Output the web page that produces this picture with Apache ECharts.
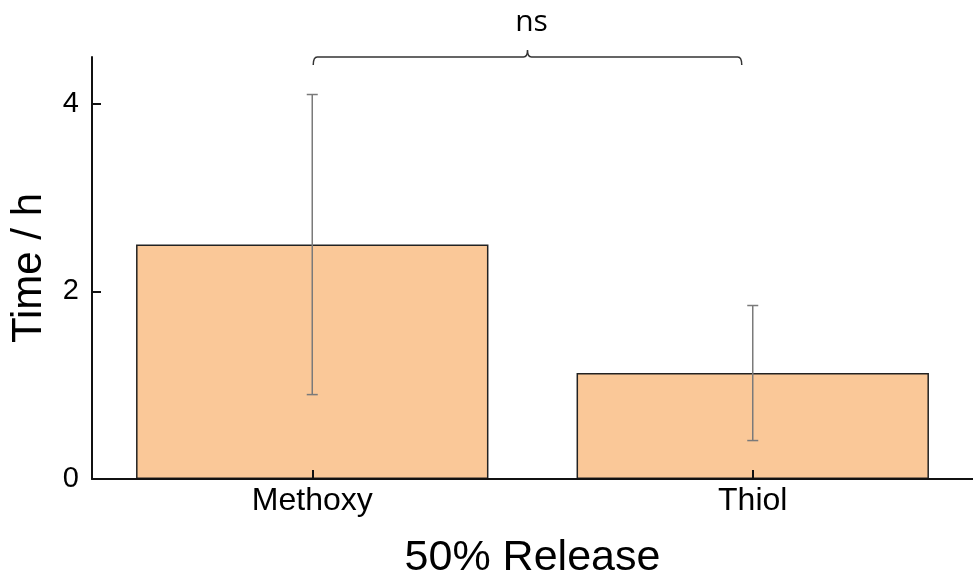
<!DOCTYPE html>
<html>
<head>
<meta charset="utf-8">
<title>50% Release time</title>
<script src="https://cdn.jsdelivr.net/npm/echarts@6/dist/echarts.min.js"></script>
<style>
  html, body { margin: 0; padding: 0; background: #ffffff; }
  #chart { width: 973px; height: 585px; }
</style>
</head>
<body>
<div id="chart"></div>
<script>
// Time to 50% release per linker (mean ± SD, hours)
const categories = ['Methoxy', 'Thiol'];
const meanTime = [2.5, 1.13];
const sdTime = [1.6, 0.72];
const yTicks = [0, 2, 4];

// Significance annotation between the two groups
const bracketPair = [0, 1];
const bracketLevel = [4.5];
const bracketLabel = 'ns';

const FONT = '"Liberation Sans", Arial, sans-serif';
const INK = '#111111';

const errorData = meanTime.map((m, i) => [i, m - sdTime[i], m + sdTime[i]]);

const chart = echarts.init(document.getElementById('chart'), null, { renderer: 'canvas' });

chart.setOption({
  animation: false,
  backgroundColor: '#ffffff',
  // the x axis runs past the right edge of the canvas
  grid: { left: 90, top: 57, width: 890, height: 425, containLabel: false },
  xAxis: {
    type: 'category',
    data: categories,
    z: 10,
    axisLine: { show: true, lineStyle: { color: INK, width: 2 } },
    axisTick: { show: true, inside: true, length: 9, alignWithLabel: true, lineStyle: { color: INK, width: 2 } },
    axisLabel: { color: '#000', fontSize: 32, fontFamily: FONT, margin: 6 },
    splitLine: { show: false },
    name: '50% Release',
    nameLocation: 'middle',
    nameGap: 58,
    nameTextStyle: { color: '#000', fontSize: 43, fontFamily: FONT }
  },
  yAxis: {
    type: 'value',
    min: 0,
    max: 4.5,
    interval: 2,
    z: 10,
    axisLine: { show: true, lineStyle: { color: INK, width: 2 } },
    axisTick: { show: true, inside: true, length: 9, customValues: yTicks, lineStyle: { color: INK, width: 2 } },
    axisLabel: { color: '#000', fontSize: 29, fontFamily: FONT, margin: 13, customValues: yTicks },
    splitLine: { show: false },
    name: 'Time / h',
    nameLocation: 'middle',
    nameGap: 42,
    nameRotate: 90,
    nameTextStyle: { color: '#000', fontSize: 42, fontFamily: FONT }
  },
  series: [
    {
      type: 'bar',
      data: meanTime,
      barCategoryGap: '20%',
      itemStyle: { color: '#FAC898', borderColor: '#222222', borderWidth: 1.5 },
      z: 2
    },
    {
      // SD whiskers
      type: 'custom',
      data: errorData,
      z: 3,
      clip: false,
      renderItem(params, api) {
        const x = api.value(0);
        const lo = api.coord([x, api.value(1)]);
        const hi = api.coord([x, api.value(2)]);
        const cap = 5.5;
        const style = { stroke: '#7a7a7a', lineWidth: 1.5 };
        return {
          type: 'group',
          children: [
            { type: 'line', shape: { x1: lo[0], y1: lo[1], x2: hi[0], y2: hi[1] }, style },
            { type: 'line', shape: { x1: hi[0] - cap, y1: hi[1], x2: hi[0] + cap, y2: hi[1] }, style },
            { type: 'line', shape: { x1: lo[0] - cap, y1: lo[1], x2: lo[0] + cap, y2: lo[1] }, style }
          ]
        };
      }
    },
    {
      // comparison bracket with its label
      type: 'custom',
      data: [[bracketPair[0], bracketPair[1], bracketLevel[0]]],
      z: 4,
      clip: false,
      renderItem(params, api) {
        const a = api.coord([api.value(0), api.value(2)]);
        const b = api.coord([api.value(1), api.value(2)]);
        const x1 = a[0] + 1;
        const x2 = b[0] - 11;
        const y = a[1];
        const cx = (x1 + x2) / 2;
        const r = 4;
        const drop = 8;
        const rise = 7;
        const path =
          `M${x1},${y + drop} Q${x1},${y} ${x1 + r},${y} ` +
          `L${cx - r},${y} Q${cx},${y} ${cx},${y - rise} Q${cx},${y} ${cx + r},${y} ` +
          `L${x2 - r},${y} Q${x2},${y} ${x2},${y + drop}`;
        return {
          type: 'group',
          children: [
            {
              type: 'path',
              shape: { pathData: path },
              style: { fill: 'none', stroke: '#333333', lineWidth: 1.5 }
            },
            {
              type: 'text',
              x: cx + 4,
              y: y - 35,
              style: {
                text: bracketLabel,
                fill: '#000',
                fontSize: 30,
                fontFamily: '"Open Sans", "Noto Sans", sans-serif',
                align: 'center',
                verticalAlign: 'middle'
              }
            }
          ]
        };
      }
    }
  ]
});
</script>
</body>
</html>
